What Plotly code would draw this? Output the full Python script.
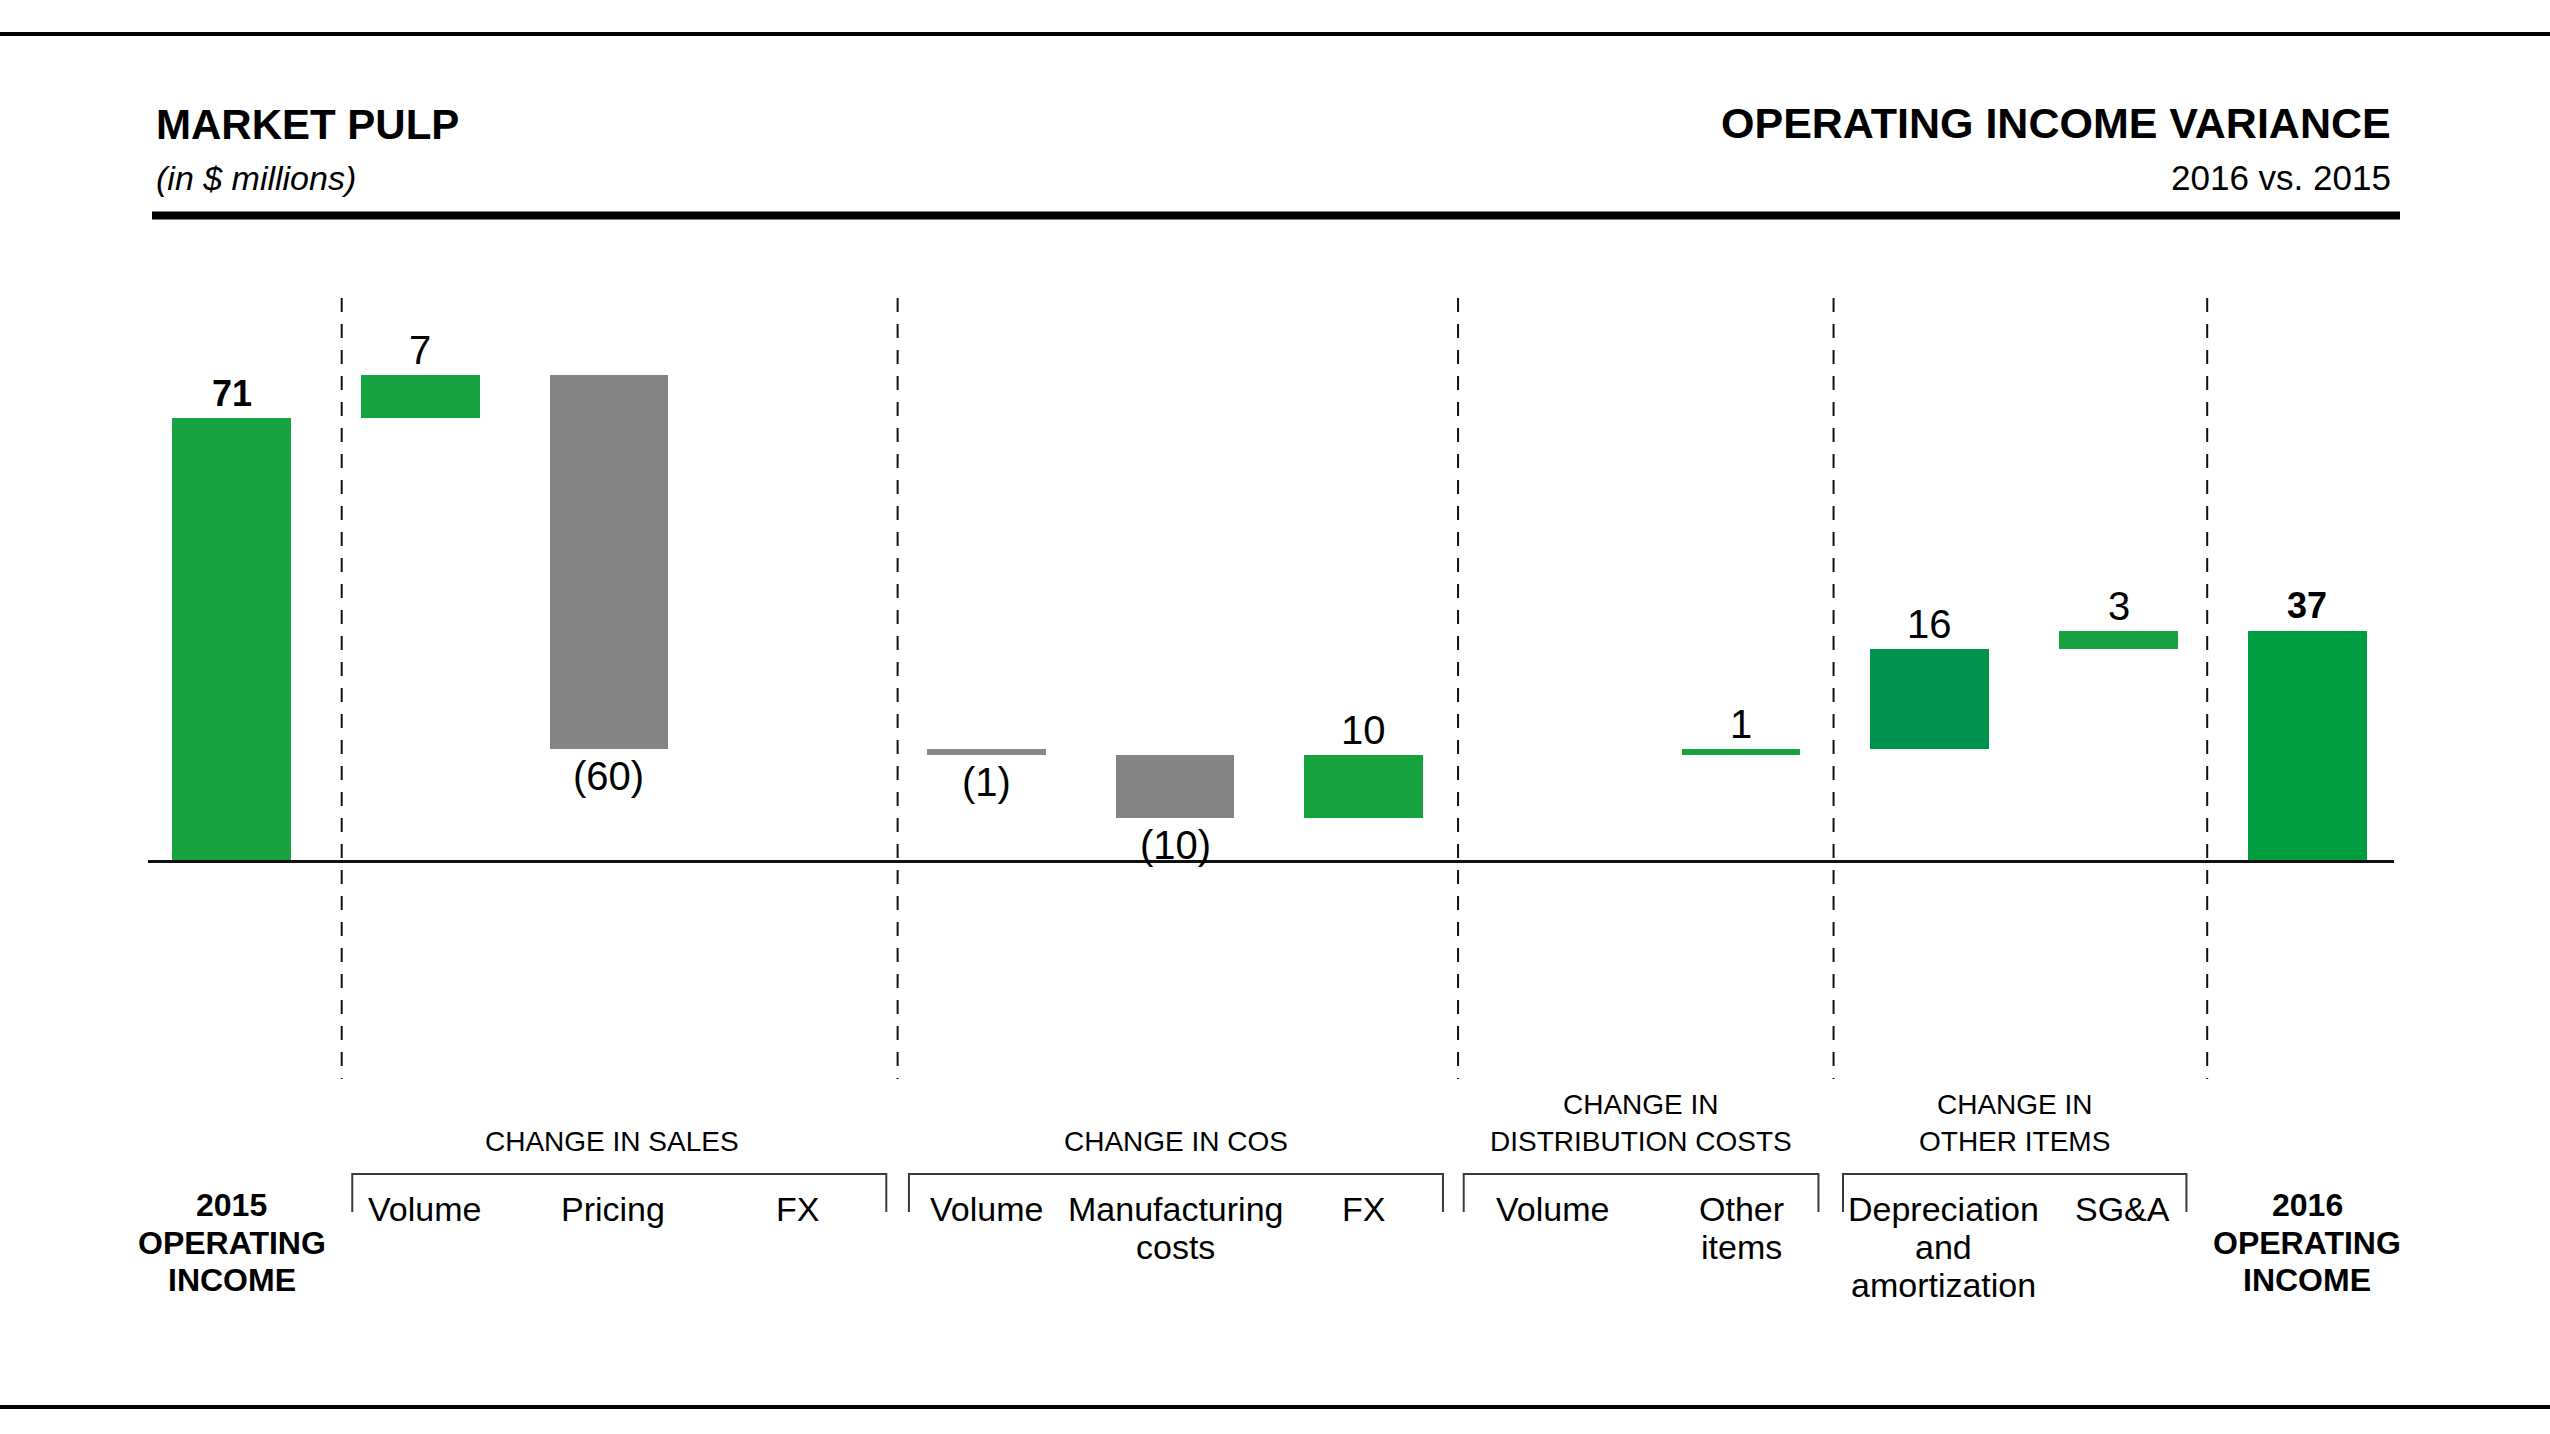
import plotly.graph_objects as go

# ---------------- data ----------------
categories = ["2015<br>OPERATING<br>INCOME", "Volume", "Pricing", "FX", "Volume",
              "Manufacturing<br>costs", "FX", "Volume", "Other<br>items",
              "Depreciation<br>and<br>amortization", "SG&A", "2016<br>OPERATING<br>INCOME"]
measures = ["total", "relative", "relative", "relative", "relative", "relative",
            "relative", "relative", "relative", "relative", "relative", "total"]
changes = [71, 7, -60, 0, -1, -10, 10, 0, 1, 16, 3, 37]

group_titles = ["CHANGE IN SALES", "CHANGE IN COS",
                "CHANGE IN<br>DISTRIBUTION COSTS", "CHANGE IN<br>OTHER ITEMS"]
group_first = [1, 4, 7, 9]
group_last = [3, 6, 8, 10]

title_left = "MARKET PULP"
subtitle_left = "(in $ millions)"
title_right = "OPERATING INCOME VARIANCE"
subtitle_right = "2016 vs. 2015"

# ---------------- style ----------------
bar_colors = ["#17A33F", "#17A33F", "#848484", "#848484", "#8A8A8A", "#848484",
              "#17A33F", "#17A33F", "#17A33F", "#00934E", "#17A33F", "#009E40"]
label_xshift = [0, 4, 4, 0, 0, 0, 0, 0, 0, 14, 4, 0]

W, H = 2550, 1434
X0_PX, DX_PX = 231.5, 188.7     # pixel of first category, pixels per category
Y0_PX, DY_PX = 861.5, 6.24      # pixel of zero, pixels per unit

SANS = "Liberation Sans, Arial, sans-serif"


def py(p):
    return 1 - p / H


def pxr(p):
    return p / W


# ---------------- compute floating bars ----------------
bases, heights = [], []
running = 0
for m, v in zip(measures, changes):
    if m == "total":
        bases.append(0)
        heights.append(v)
        running = v
    else:
        bases.append(running + min(v, 0))
        heights.append(abs(v))
        running += v

xs = list(range(len(categories)))

fig = go.Figure()
fig.add_trace(go.Bar(
    x=xs, y=heights, base=bases, width=0.629,
    marker=dict(color=bar_colors, line=dict(width=0)),
    hoverinfo="skip", showlegend=False,
))

annotations = []
shapes = []

# value labels
for i, (m, v, b, h) in enumerate(zip(measures, changes, bases, heights)):
    if v == 0:
        continue
    if m == "total":
        annotations.append(dict(x=i, y=b + h, xref="x", yref="y", text=f"<b>{v}</b>",
                                yanchor="middle", yshift=25, showarrow=False,
                                font=dict(family=SANS, size=36, color="#000")))
    elif v > 0:
        annotations.append(dict(x=i, y=b + h, xref="x", yref="y", text=str(v),
                                yanchor="middle", yshift=25, showarrow=False,
                                font=dict(family=SANS, size=40, color="#000")))
    else:
        annotations.append(dict(x=i, y=b, xref="x", yref="y", text=f"({abs(v)})",
                                yanchor="middle", yshift=-27, showarrow=False,
                                font=dict(family=SANS, size=40, color="#000")))


def add_lines(text, x, xref, y_first_px, spacing, font, xshift=0):
    for k, line in enumerate(text.split("<br>")):
        annotations.append(dict(x=x, y=py(y_first_px + k * spacing), xref=xref, yref="paper",
                                text=line, showarrow=False, xanchor="center",
                                yanchor="middle", font=font, xshift=xshift))


# category labels
for i, (m, lab, xsh) in enumerate(zip(measures, categories, label_xshift)):
    if m == "total":
        add_lines(lab, i, "x", 1205, 37.5,
                  dict(family=SANS, size=32, color="#000", weight="bold"), xsh)
    else:
        add_lines(lab, i, "x", 1209, 38, dict(family=SANS, size=34, color="#000"), xsh)

# brackets and group titles
bracket_left = [0.64, 3.59, 6.53, 8.54]
bracket_right = [3.47, 6.42, 8.41, 10.36]
title_offset = [-0.04, 0, 0, 0]
for t, a, b, off in zip(group_titles, bracket_left, bracket_right, title_offset):
    yt, yb = py(1174), py(1212)
    shapes.append(dict(type="path", xref="x", yref="paper",
                       path=f"M {a},{yb} L {a},{yt} L {b},{yt} L {b},{yb}",
                       line=dict(color="#3A3A3A", width=2)))
    n = len(t.split("<br>"))
    add_lines(t, (a + b) / 2 + off, "x", 1141 - (n - 1) * 37, 37,
              dict(family=SANS, size=28, color="#000"))

# dashed separators
for xd in [0.584, 3.53, 6.50, 8.49, 10.47]:
    shapes.append(dict(type="line", xref="x", yref="paper", x0=xd, x1=xd,
                       y0=py(298), y1=py(1079),
                       line=dict(color="#111", width=2, dash="14px,12px")))

# baseline
shapes.append(dict(type="line", xref="paper", yref="y", x0=pxr(148), x1=pxr(2394),
                   y0=0, y1=0, line=dict(color="#111", width=3)))

# rules
shapes.append(dict(type="rect", xref="paper", yref="paper", x0=0, x1=1,
                   y0=py(36), y1=py(32), fillcolor="#000", line=dict(width=0)))
shapes.append(dict(type="rect", xref="paper", yref="paper", x0=0, x1=1,
                   y0=py(1409), y1=py(1405), fillcolor="#000", line=dict(width=0)))
shapes.append(dict(type="rect", xref="paper", yref="paper", x0=pxr(152), x1=pxr(2400),
                   y0=py(219.5), y1=py(211.5), fillcolor="#000", line=dict(width=0)))

# titles
annotations.append(dict(x=pxr(154), y=py(124), xref="paper", yref="paper",
                        text=f"<b>{title_left}</b>", xanchor="left", yanchor="middle",
                        showarrow=False, font=dict(family=SANS, size=42, color="#000")))
annotations.append(dict(x=pxr(154), y=py(178), xref="paper", yref="paper",
                        text=f"<i>{subtitle_left}</i>", xanchor="left", yanchor="middle",
                        showarrow=False, font=dict(family=SANS, size=34, color="#000")))
annotations.append(dict(x=pxr(2393), y=py(123), xref="paper", yref="paper",
                        text=f"<b>{title_right}</b>", xanchor="right", yanchor="middle",
                        showarrow=False, font=dict(family=SANS, size=43, color="#000")))
annotations.append(dict(x=pxr(2393), y=py(177), xref="paper", yref="paper",
                        text=subtitle_right, xanchor="right", yanchor="middle",
                        showarrow=False, font=dict(family=SANS, size=35, color="#000")))

fig.update_layout(
    width=W, height=H,
    margin=dict(l=0, r=0, t=0, b=0, pad=0),
    paper_bgcolor="white", plot_bgcolor="white",
    xaxis=dict(range=[-X0_PX / DX_PX, (W - X0_PX) / DX_PX], visible=False, fixedrange=True),
    yaxis=dict(range=[-(H - Y0_PX) / DY_PX, Y0_PX / DY_PX], visible=False, fixedrange=True),
    shapes=shapes, annotations=annotations, bargap=0,
)

fig.write_html("out.html", config={"displayModeBar": False},
               post_script="document.body.style.margin='0';document.body.style.overflow='hidden';")
